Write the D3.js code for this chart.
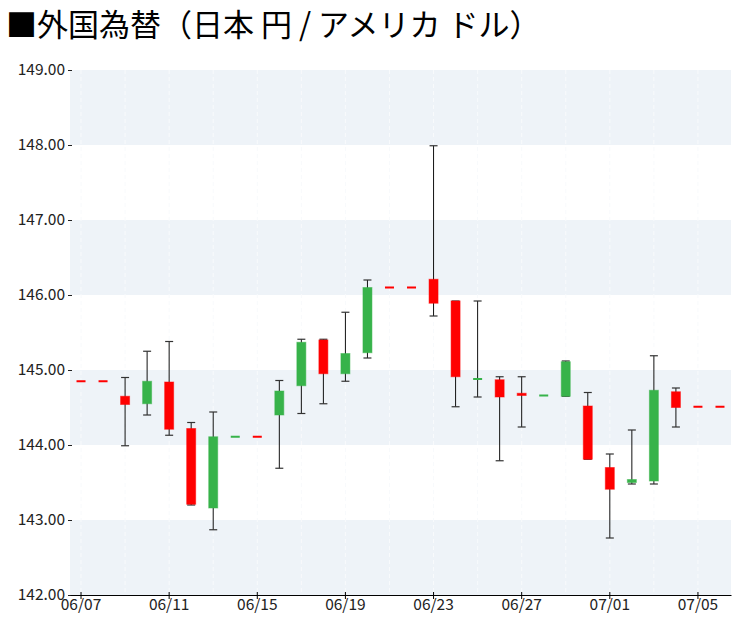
<!DOCTYPE html>
<html><head><meta charset="utf-8">
<script src="https://cdn.jsdelivr.net/npm/d3@7"></script>
<style>
body{margin:0;background:#fff;}
svg{display:block;font-family:"Noto Sans CJK JP","Noto Sans",sans-serif;}
</style></head>
<body>
<svg id="c" width="750" height="625"></svg>
<script>
const dates = ["06/07","06/08","06/09","06/10","06/11","06/12","06/13","06/14","06/15","06/16","06/17","06/18","06/19","06/20","06/21","06/22","06/23","06/24","06/25","06/26","06/27","06/28","06/29","06/30","07/01","07/02","07/03","07/04","07/05","07/06"];
const openV  = [144.85,144.85,144.65,144.55,144.84,144.22,143.16,144.11,144.11,144.40,144.79,145.40,144.95,145.23,146.10,146.10,146.21,145.92,144.88,144.87,144.69,144.66,144.65,144.52,143.70,143.50,143.52,144.71,144.51,144.51];
const closeV = [144.85,144.85,144.54,144.85,144.21,143.21,144.11,144.11,144.11,144.72,145.37,144.95,145.22,146.10,146.10,146.10,145.89,144.91,144.88,144.64,144.66,144.66,145.11,143.81,143.41,143.54,144.73,144.50,144.51,144.51];
const highV  = [144.85,144.85,144.90,145.25,145.38,144.30,144.44,144.11,144.11,144.86,145.41,145.41,145.77,146.20,146.10,146.10,147.99,145.92,145.92,144.91,144.91,144.66,145.12,144.70,143.88,144.20,145.19,144.76,144.51,144.51];
const lowV   = [144.85,144.85,143.99,144.40,144.13,143.20,142.87,144.11,144.11,143.69,144.42,144.55,144.85,145.16,146.10,146.10,145.72,144.51,144.64,143.79,144.24,144.66,144.65,143.81,142.76,143.48,143.48,144.24,144.51,144.51];
// which doji dashes are coloured "up" (green)
const dojiUp = ["06/14","06/25","06/28"];
const yTicks = [142,143,144,145,146,147,148,149];
const xLabels = ["06/07","06/11","06/15","06/19","06/23","06/27","07/01","07/05"];
const gridDates = dates.filter((d,i)=>i%2===0);
const titleText = "■外国為替（日本 円 / アメリカ ドル）";

const data = dates.map((d,i)=>({d, o:openV[i], c:closeV[i], h:highV[i], l:lowV[i]}));
const svg = d3.select("#c");
const L=70, R=731, T=70, B=595;
const x = d3.scaleBand().domain(dates).range([L,R]).padding(0);
const y = d3.scaleLinear().domain([142,149]).range([B,T]);
const cx = d => x(d)+x.bandwidth()/2;

svg.append("text").attr("x",6).attr("y",36).attr("font-size",31).attr("fill","#000").text(titleText);

// stripes
const stripes = d3.pairs(yTicks).filter((p,i)=>i%2===0);
svg.append("g").selectAll("rect").data(stripes).join("rect")
  .attr("x",L).attr("width",R-L).attr("y",p=>y(p[1])).attr("height",p=>y(p[0])-y(p[1])).attr("fill","#eef3f8");

// vertical dashed grid
svg.append("g").selectAll("line").data(gridDates).join("line")
  .attr("x1",cx).attr("x2",cx).attr("y1",T).attr("y2",B)
  .attr("stroke","#f8fafc").attr("stroke-dasharray","4,3");

const fam = "'Noto Sans CJK JP','Noto Sans',sans-serif";
// y axis
const ya = svg.append("g").attr("transform",`translate(${L+2},0)`)
  .call(d3.axisLeft(y).tickValues(yTicks).tickFormat(d3.format(".2f")).tickSize(4).tickPadding(3));
ya.select(".domain").remove();
ya.selectAll("text").attr("font-size",15.5).attr("fill","#222").style("font-family",fam);
ya.selectAll("line").attr("stroke","#222");

// x axis
const xa = svg.append("g").attr("transform",`translate(0,${B})`)
  .call(d3.axisBottom(x).tickValues(xLabels).tickSize(4).tickSizeOuter(0).tickPadding(0));
xa.select(".domain").attr("stroke","#000");
xa.selectAll(".tick line").attr("y1",-3);
xa.selectAll("text").attr("font-size",15.5).attr("fill","#222").style("font-family",fam);

const red="#ff0000", green="#37b34a";
const bw = 9, cap = 8;
const g = svg.append("g");
data.forEach(p=>{
  const up = p.c>p.o || (p.c===p.o && dojiUp.includes(p.d));
  const col = up?green:red;
  const X = cx(p.d);
  if (p.h>Math.max(p.o,p.c) || p.l<Math.min(p.o,p.c)) {
    g.append("line").attr("x1",X).attr("x2",X).attr("y1",y(p.h)).attr("y2",y(p.l)).attr("stroke","#111").attr("stroke-width",1);
    g.append("line").attr("x1",X-cap/2).attr("x2",X+cap/2).attr("y1",y(p.h)).attr("y2",y(p.h)).attr("stroke","#333").attr("stroke-width",1.2);
    g.append("line").attr("x1",X-cap/2).attr("x2",X+cap/2).attr("y1",y(p.l)).attr("y2",y(p.l)).attr("stroke","#333").attr("stroke-width",1.2);
  }
  const top = y(Math.max(p.o,p.c)), bot = y(Math.min(p.o,p.c));
  const hgt = Math.max(bot-top, 2);
  g.append("rect").attr("x",X-bw/2).attr("width",bw).attr("y",hgt===2? (top+bot)/2-1 : top).attr("height",hgt)
    .attr("fill",col).attr("stroke",col).attr("stroke-opacity",0.5).attr("stroke-width",hgt===2?0:1);
});
</script>
</body></html>
